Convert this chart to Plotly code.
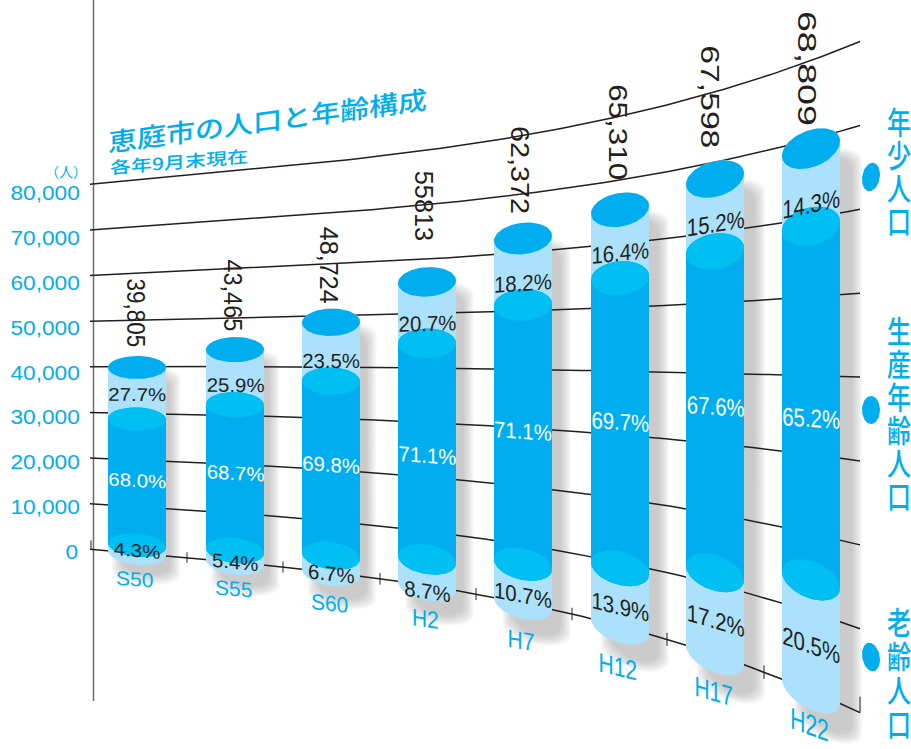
import json
import numpy as np
import plotly.graph_objects as go

# Population of Eniwa by census year, with the share of each age group
years = ["S50", "S55", "S60", "H2", "H7", "H12", "H17", "H22"]
totals = [39805, 43465, 48724, 55813, 62372, 65310, 67598, 68809]
total_labels = ["39,805", "43,465", "48,724", "55813", "62,372", "65,310", "67,598", "68,809"]
young_pct = [27.7, 25.9, 23.5, 20.7, 18.2, 16.4, 15.2, 14.3]
working_pct = [68.0, 68.7, 69.8, 71.1, 71.1, 69.7, 67.6, 65.2]
elderly_pct = [4.3, 5.4, 6.7, 8.7, 10.7, 13.9, 17.2, 20.5]
grid_values = [0, 10000, 20000, 30000, 40000, 50000, 60000, 70000, 80000]

CYAN = "#00aeef"
PALE = "#abe1fa"
BRIGHT = "#00bff2"
INK = "#231f20"
SANS = "Liberation Sans"
CJK = "Noto Sans CJK JP"

# Perspective of the floor: zero line and 80,000 line as curves over the page
floor_x = [91, 187, 283, 380, 476, 572, 667, 764, 860]
floor_y = [550, 556, 568, 578, 595, 615, 638, 672, 713]
ceil_x = [91, 300, 480, 660, 760, 860]
ceil_y = [184, 166, 141, 107, 79, 41]
floor_fit = np.polyfit(floor_x, floor_y, 3)
ceil_fit = np.polyfit(ceil_x, ceil_y, 3)


def project(x, value):
    """Page y of a population value at horizontal position x."""
    base = np.polyval(floor_fit, x)
    top = np.polyval(ceil_fit, x)
    return base - (base - top) * np.asarray(value) / 80000.0


def slope(x, value):
    return float((project(x + 5, value) - project(x - 5, value)) / 10)


columns = [137, 235, 331, 427, 523, 620, 715, 811]
RADIUS = 29.0


def depth(x):
    return 11.5 + 7.5 * (x - 137) / 674


def ring(x, value, t):
    dx = RADIUS * np.cos(t)
    return x + dx, project(x + dx, value) + depth(x) * np.sin(t)


def disc(x, value):
    return ring(x, value, np.linspace(0, 2 * np.pi, 90))


def band(x, upper, lower, dx=0.0, dy=0.0, grow=0.0):
    """Outline of a cylinder section: back arc on top, rounded front arc below."""
    up = np.linspace(np.pi, 2 * np.pi, 45)
    down = np.linspace(0, np.pi, 45)
    ux, uy = ring(x, upper, up)
    lx, ly = ring(x, lower, down)
    cx = x + dx
    px = np.concatenate([ux, lx])
    px = cx + (px - x) * (RADIUS + grow) / RADIUS
    py = np.concatenate([uy - grow, ly + grow]) + dy
    return np.append(px, px[0]), np.append(py, py[0])


fig = go.Figure()


def polygon(px, py, color):
    fig.add_trace(go.Scatter(x=px, y=py, mode="lines", fill="toself", fillcolor=color,
                             line=dict(width=0), hoverinfo="skip", showlegend=False))


def stroke(px, py, color=INK, width=1.5):
    fig.add_trace(go.Scatter(x=px, y=py, mode="lines", line=dict(color=color, width=width),
                             hoverinfo="skip", showlegend=False))


# Soft drop shadows, built from stacked translucent outlines
for x, total in zip(columns, totals):
    frac = (x - 137) / 674
    for grow in np.linspace(5, -5, 7):
        px, py = band(x, total, 0, dx=9 + 8 * frac, dy=15 + 10 * frac, grow=grow)
        polygon(px, py, "rgba(130,132,136,0.075)")

# Vertical axis, value grid and floor ticks
stroke([93.5, 93.5], [0, 701], "#6d6e71", 1.5)
grid_x = np.linspace(90, 860, 120)
for value in grid_values:
    stroke(grid_x, project(grid_x, value))
for i, x in enumerate(floor_x):
    y0 = float(project(x, 0))
    half = 5 + 2 * i / 8
    if i == 0:
        stroke([x, x], [y0 - 9, y0], INK, 1)
    elif i == len(floor_x) - 1:
        stroke([x, x], [y0 - 16, y0], INK, 1)
    else:
        stroke([x, x], [y0 - half, y0 + half], INK, 1)

# Cylinders
for x, total, e_pct, w_pct in zip(columns, totals, elderly_pct, working_pct):
    low = total * e_pct / 100
    high = total * (e_pct + w_pct) / 100
    polygon(*band(x, total, 0), PALE)
    polygon(*band(x, high, low), CYAN)
    polygon(*disc(x, low), BRIGHT)
    polygon(*disc(x, high), BRIGHT)
    polygon(*disc(x, total), CYAN)

# Legend dots
for cy, tilt in zip([177, 410, 657], [-0.28, 0.0, 0.32]):
    t = np.linspace(0, 2 * np.pi, 60)
    polygon(871 + 9 * np.cos(t), cy + 14 * np.sin(t) + tilt * 9 * np.cos(t), CYAN)

annotations = []
warps = []


def label(x, y, text, size, color, angle=0, sx=1.0, sy=1.0, shear=0.0, font=SANS, weight=400):
    annotations.append(dict(x=x, y=y, xref="x", yref="y", text=text, showarrow=False,
                            textangle=angle, xanchor="center", yanchor="middle",
                            font=dict(family=font, size=size, color=color, weight=weight)))
    warps.append([sx, shear * sx, sy])


# Value axis labels
for value in grid_values:
    text = f"{value:,}"
    width = 61 if value else 11.5
    label(78 - width / 2 * 1.08, 551.5 - value * 359 / 80000, text, 21, CYAN, sx=1.08)
label(66, 171, "（人）", 14, CYAN, font=CJK)

# Title
label(267, 119, "恵庭市の人口と年齢構成", 29, CYAN, sy=0.88, shear=-0.135, font=CJK, weight=500)
label(179, 161, "各年9月末現在", 21, CYAN, sy=0.8, shear=-0.085, font=CJK, weight=500)

# Totals above each column, running downward
along = [22.5, 23.5, 25.2, 25.2, 28.8, 31.4, 33.7, 37.6]
total_gap = [9, 6, 5, 26, 9, 13, 13, 4]
total_shift = [-1, -2, -2, -3, -3, -2, -5, -4]
for x, total, text, em, gap, shift in zip(columns, totals, total_labels, along, total_gap, total_shift):
    length = em * (2.78 if "," not in text else 3.06)
    top = float(project(x, total))
    label(x + shift, top - depth(x) - gap - length / 2, text, 25, INK, angle=90, sx=em / 25)

# Share labels inside each section, with a hand-set drop for each
young_drop = [1.6, 7.6, 8.6, 11.8, 11.7, 9.2, 8.3, 16.6]
working_drop = [-1.7, -4.6, -3.4, 4.8, -2.8, -1.6, -5.4, 14.8]
elderly_drop = [1.8, 6, 9.2, 19.4, 12, 9.6, 6.5, 9.5]
for i, x in enumerate(columns):
    total = totals[i]
    frac = (x - 137) / 674
    size = 18.5 + 7 * frac
    sx = 20.4 / size
    low = total * elderly_pct[i] / 100
    high = total * (elderly_pct[i] + working_pct[i]) / 100
    for pct, upper, lower, drop, color in [
        (young_pct[i], total, high, young_drop[i], INK),
        (working_pct[i], high, low, working_drop[i], "white"),
        (elderly_pct[i], low, 0, elderly_drop[i], INK),
    ]:
        mid = (upper + lower) / 2
        y = (float(project(x, upper)) + float(project(x, lower))) / 2 + drop
        label(x, y, f"{pct:.1f}%", size, color, sx=sx, shear=slope(x, mid))

# Census year under each column
year_sizes = [20, 21, 22, 24, 25, 27, 28, 30]
year_drop = [0, -1, 2, 2, 4, 6, 0, -5]
for x, year, size, drop in zip(columns, years, year_sizes, year_drop):
    y = float(project(x, 0)) + depth(x) + 0.6 * size + 2 + drop
    label(x - 2, y, year, size, CYAN, sx=21 / size, shear=slope(x, 0) * 0.85)

# Vertical legend captions
for chars, y0, step in [("年少人口", 120, 33), ("生産年齢人口", 329, 33), ("老齢人口", 620, 34)]:
    for k, ch in enumerate(chars):
        label(899, y0 + k * step, ch, 24, CYAN, sy=1.3, font=CJK, weight=500)

fig.update_layout(
    width=911, height=749, autosize=False,
    margin=dict(l=0, r=0, t=0, b=0),
    paper_bgcolor="white", plot_bgcolor="white",
    showlegend=False,
    xaxis=dict(range=[0, 911], visible=False, fixedrange=True),
    yaxis=dict(range=[749, 0], visible=False, fixedrange=True),
    annotations=annotations,
)

# Apply the anamorphic stretch of the perspective to each label about its centre
post = """
var warps = %s;
document.querySelectorAll('g.annotation').forEach(function (g) {
  var w = warps[+g.getAttribute('data-index')];
  var t = g.querySelector('text');
  if (!w || !t) return;
  var b = t.getBBox(), cx = b.x + b.width / 2, cy = b.y + b.height / 2;
  t.setAttribute('transform', 'translate(' + cx + ',' + cy + ') matrix(' + w[0] + ',' + w[1] +
    ',0,' + w[2] + ',0,0) translate(' + (-cx) + ',' + (-cy) + ')');
});
""" % json.dumps(warps)

fig.write_html("out.html", post_script=post, config=dict(displayModeBar=False))
